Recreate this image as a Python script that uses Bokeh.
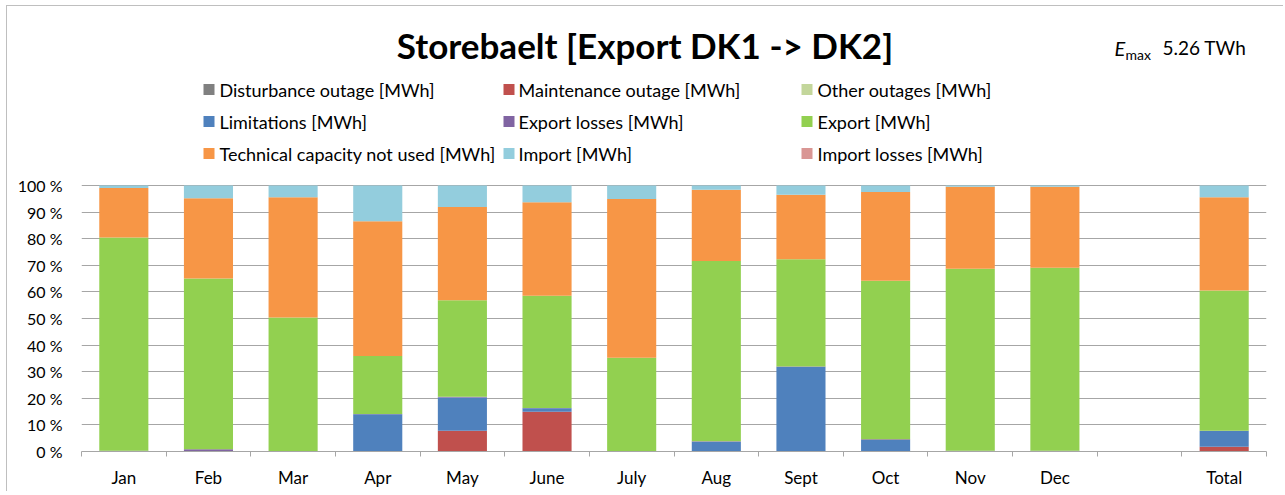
from bokeh.plotting import figure
from bokeh.models import ColumnDataSource, FixedTicker, Range1d
from bokeh.embed import file_html
from bokeh.resources import INLINE

# ---- data (percent of E_max) ----
months = ["Jan", "Feb", "Mar", "Apr", "May", "June", "July", "Aug", "Sept", "Oct", "Nov", "Dec", "", "Total"]
disturbance = [0, 0, 0, 0, 0, 0, 0, 0, 0, 0, 0, 0, 0, 0]
maintenance = [0, 0, 0, 0, 7.8, 14.9, 0, 0, 0, 0, 0, 0, 0, 1.8]
other_outages = [0, 0, 0, 0, 0, 0, 0, 0, 0, 0, 0, 0, 0, 0]
limitations = [0, 0, 0, 14.0, 12.5, 1.4, 0, 3.7, 31.8, 4.3, 0, 0, 0, 5.9]
export_losses = [0.3, 0.8, 0.1, 0.1, 0.3, 0.1, 0.1, 0.2, 0.2, 0.3, 0.3, 0.3, 0, 0.1]
export = [80.2, 64.2, 50.3, 21.8, 36.3, 42.2, 35.1, 67.7, 40.3, 59.6, 68.4, 68.8, 0, 52.7]
tech_not_used = [18.6, 30.2, 45.2, 50.7, 35.0, 35.1, 59.7, 26.8, 24.2, 33.4, 30.8, 30.4, 0, 35.1]
import_ = [0.9, 4.8, 4.4, 13.4, 8.1, 6.3, 5.1, 1.6, 3.5, 2.4, 0.5, 0.5, 0, 4.4]
import_losses = [0, 0, 0, 0, 0, 0, 0, 0, 0, 0, 0, 0, 0, 0]

series_names = ["Disturbance outage [MWh]", "Maintenance outage [MWh]", "Other outages [MWh]",
                "Limitations [MWh]", "Export losses [MWh]", "Export [MWh]",
                "Technical capacity not used [MWh]", "Import [MWh]", "Import losses [MWh]"]
colors = ["#808080", "#c0504d", "#c3d69b", "#4f81bd", "#8064a2", "#92d050", "#f79646", "#93cddd", "#d99694"]
y_ticks = [0, 10, 20, 30, 40, 50, 60, 70, 80, 90, 100]

FONT = "Lato"
GRID = "#a6a6a6"

n = len(months)
centers = [i + 0.5 for i in range(n)]
keys = ["s%d" % i for i in range(9)]
data = dict(x=centers)
for k, arr in zip(keys, [disturbance, maintenance, other_outages, limitations, export_losses,
                         export, tech_not_used, import_, import_losses]):
    data[k] = arr
source = ColumnDataSource(data)

# page pixel -> data helpers (for title / legend placement only)
FL, FB, PXX, PXY = 82.0, 452.0, 1185.0 / n, 2.66


def dx(px):
    return (px - FL) / PXX


def dy(py):
    return (FB - py) / PXY


W, H = 1277, 486
p = figure(width=W, height=H, output_backend="svg", toolbar_location=None,
           x_range=Range1d(0, n), y_range=Range1d(0, 167.3),
           min_border_left=74, min_border_right=18, min_border_top=0, min_border_bottom=41)
p.styles = {"border-left": "1px solid #bfbfbf", "border-top": "1px solid #bfbfbf",
            "margin-left": "6px", "margin-top": "5px"}
p.outline_line_color = None
p.background_fill_color = "white"
p.border_fill_color = "white"

p.vbar_stack(keys, x="x", width=0.58, color=colors, source=source, line_color=None)

# axes
p.xaxis.ticker = FixedTicker(ticks=centers, minor_ticks=list(range(n + 1)))
p.xaxis.major_label_overrides = {c: m for c, m in zip(centers, months)}
p.xaxis.major_tick_out = 0
p.xaxis.major_tick_in = 0
p.xaxis.minor_tick_out = 5
p.xaxis.minor_tick_in = 0
p.xaxis.minor_tick_line_color = GRID
p.xaxis.axis_line_color = GRID
p.xaxis.major_label_standoff = 10
p.xaxis.major_label_text_font = FONT
p.xaxis.major_label_text_font_size = "17px"
p.xaxis.major_label_text_color = "black"

p.yaxis.ticker = FixedTicker(ticks=y_ticks)
p.yaxis.major_label_overrides = {v: "%d %%" % v for v in y_ticks}
p.yaxis.axis_line_color = None
p.yaxis.major_tick_line_color = None
p.yaxis.minor_tick_line_color = None
p.yaxis.major_tick_out = 0
p.yaxis.major_label_standoff = 19
p.yaxis.major_label_text_font = FONT
p.yaxis.major_label_text_font_size = "16px"
p.yaxis.major_label_text_color = "black"

p.xgrid.visible = False
p.ygrid.ticker = FixedTicker(ticks=y_ticks)
p.ygrid.grid_line_color = GRID
p.ygrid.grid_line_width = 1

# title
p.text(x=[dx(645.5)], y=[dy(45)], text=["Storebaelt [Export DK1 -> DK2]"],
       text_align="center", text_baseline="middle", text_font={"value": FONT},
       text_font_style="bold", text_font_size="35px", text_color="black")
# E_max annotation
p.text(x=[dx(1115)], y=[dy(48)], text=["E"], text_align="left", text_baseline="middle",
       text_font={"value": FONT}, text_font_style="italic", text_font_size="20px", text_color="black")
p.text(x=[dx(1126)], y=[dy(55)], text=["max"], text_align="left", text_baseline="middle",
       text_font={"value": FONT}, text_font_size="14px", text_color="black")
p.text(x=[dx(1163)], y=[dy(48)], text=["5.26 TWh"], text_align="left", text_baseline="middle",
       text_font={"value": FONT}, text_font_size="19px", text_color="black")

# legend: 3 columns, filled row-wise
sw_x = [209.5, 509.5, 807.5]
tx_x = [220, 519, 818]
row_y = [90, 122, 154]
lx, ly, tx = [], [], []
for i in range(len(series_names)):
    lx.append(dx(sw_x[i % 3]))
    tx.append(dx(tx_x[i % 3]))
    ly.append(dy(row_y[i // 3]))
p.rect(x=lx, y=ly, width=11, height=11, width_units="screen", height_units="screen",
       fill_color=colors, line_color=None)
p.text(x=tx, y=ly, text=series_names, text_align="left", text_baseline="middle",
       text_font={"value": FONT}, text_font_size="18px", text_color="black")

open("out.html", "w").write(file_html(p, INLINE))
